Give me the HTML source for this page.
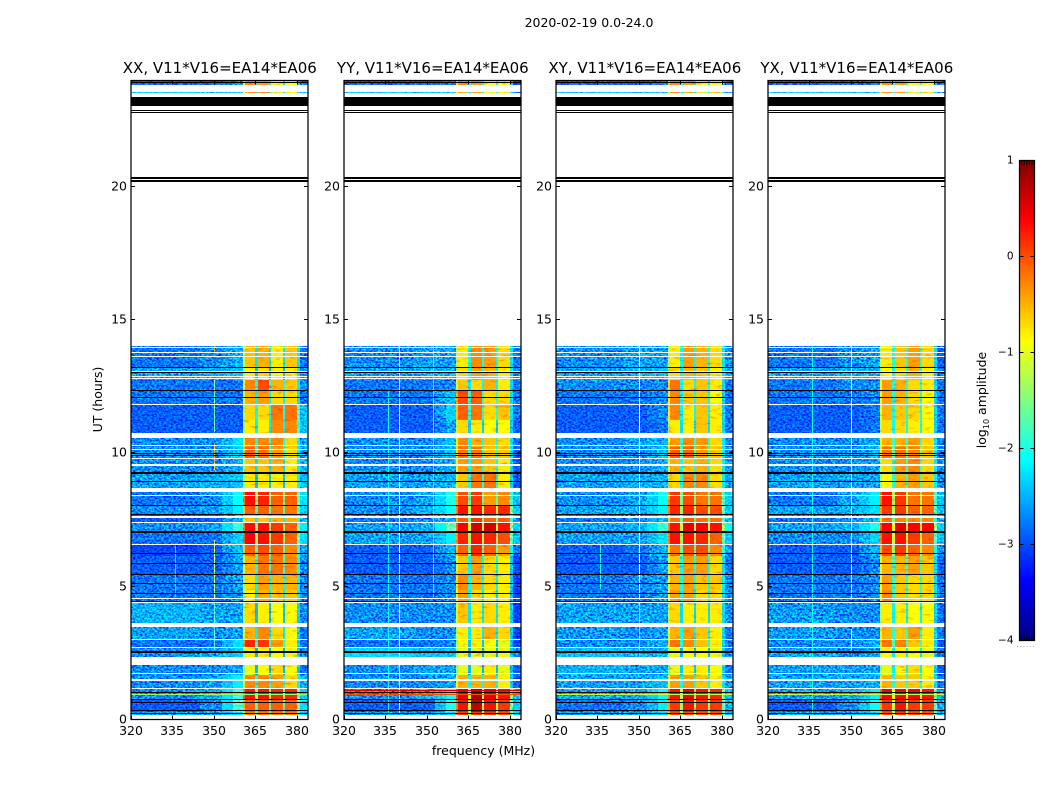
<!DOCTYPE html>
<html lang="en">
<head>
<meta charset="utf-8">
<title>2020-02-19 0.0-24.0</title>
<style>
html,body{margin:0;padding:0;background:#fff;width:1050px;height:800px;overflow:hidden}
svg{display:block}
text{font-family:"DejaVu Sans","Liberation Sans",sans-serif;fill:#000}
.tick{font-size:12.5px}
.title{font-size:15px}
</style>
</head>
<body>
<svg id="chart" xmlns="http://www.w3.org/2000/svg" width="1050" height="800" viewBox="0 0 1050 800">
<defs>
<filter id="speckle" x="0" y="0" width="100%" height="100%" color-interpolation-filters="sRGB">
<feTurbulence type="fractalNoise" baseFrequency="0.42 0.55" numOctaves="2" seed="7"/>
<feColorMatrix type="matrix" values="2.2 0 0 0 -0.5  2.2 0 0 0 -0.5  2.2 0 0 0 -0.5  0 0 0 0 1"/>
</filter>
<filter id="bandTexture" x="0" y="0" width="100%" height="100%" color-interpolation-filters="sRGB">
<feTurbulence type="fractalNoise" baseFrequency="0.12 0.35" numOctaves="2" seed="11"/>
<feColorMatrix type="matrix" values="0 0 0 0 1  1.3 0 0 0 0.46  0 0 0 0 1  0 0 0 0 1"/>
</filter>
</defs>
<text x="589" y="27" text-anchor="middle" style="font-size:12.5px">2020-02-19 0.0-24.0</text>
<text x="483.5" y="755" text-anchor="middle" class="tick">frequency (MHz)</text>
<text transform="translate(102,399.5) rotate(-90)" text-anchor="middle" class="tick">UT (hours)</text>
<text transform="translate(986,400) rotate(-90)" text-anchor="middle" class="tick">log<tspan font-size="8" dy="3">10</tspan><tspan dy="-3"> amplitude</tspan></text>
</svg>
<script>
// Time rows [top hour, bottom hour]
const rowHours=[[23.94,23.79],[23.52,23.47],[14.00,13.21],[13.21,12.73],[12.73,12.32],[12.32,11.83],[11.83,11.23],[11.23,10.74],[10.59,10.22],[10.22,9.80],[9.80,9.24],[9.24,8.68],[8.53,8.04],[8.04,7.67],[7.67,7.40],[7.40,6.99],[6.99,6.54],[6.54,6.13],[6.13,5.42],[5.42,4.85],[4.85,4.40],[4.40,3.62],[3.47,2.98],[2.98,2.68],[2.68,2.34],[2.04,1.67],[1.67,1.14],[1.14,0.73],[0.73,0.28],[0.28,0.13]];
// Frequency column edges (MHz)
const columnEdges=[320,345,353,357,360.5,361.2,365,365.8,370,370.8,375,375.8,380,381,384];
// log10 amplitude per row: [320-345, 345-353, 353-360, band1, band2, band3, band4, 381-384]
const xxLevels=[[-3,-3,-2.8,-.3,-.4,-.9,-.9,-3],[-2.4,-2.6,-2.6,-.4,-.4,-1,-.8,-2.6],[-2.9,-2.8,-2.6,-.6,-.5,-.8,-.6,-2.9],[-2.7,-2.6,-2.5,-.8,-.7,-.8,-.8,-2.7],[-2.9,-2.9,-2.9,-.3,0,-.5,-.6,-2.8],[-2.9,-2.9,-2.9,-.5,-.4,-.7,-.7,-2.9],[-3,-3,-3,-.7,-.7,-.2,-.2,-2.5],[-3,-3,-3,-.8,-.8,-.3,-.3,-2.5],[-2.8,-2.8,-2.3,-.3,-.3,-.3,-.7,-2.7],[-2.8,-2.8,-2.5,-.1,-.2,-.4,-.7,-2.7],[-2.8,-2.8,-2.6,-.6,-.6,-.5,-.8,-2.6],[-2.7,-2.6,-2.5,-.8,-.8,-.8,-.8,-2.5],[-2.9,-2.8,-2.1,.3,.2,-.1,-.1,-2.3],[-2.8,-2.7,-2.2,-.1,-.1,-.2,-.2,-2.4],[-3,-3,-2.6,-.6,-.6,-.5,-.5,-2.6],[-2.8,-2.7,-1.9,.3,.3,.1,-.1,-2.2],[-2.9,-2.9,-2.4,.4,.3,.1,-.1,-2.3],[-3.1,-3,-2.5,-.1,0,-.1,-.3,-2.7],[-3,-3,-2.7,-.5,-.2,-.2,-.3,-2.8],[-2.9,-2.9,-2.7,-.7,-.4,-.5,-.5,-2.8],[-2.9,-2.9,-2.8,-.8,-.5,-.6,-.6,-2.8],[-2.6,-2.7,-2.7,-.7,-.8,-.9,-.9,-2.8],[-2.7,-2.8,-2.7,-.5,-.3,-.7,-.9,-2.9],[-2.9,-2.9,-2.3,.2,.1,-.4,-.8,-2.9],[-2.8,-2.7,-2.4,-.8,-.8,-.9,-1,-2.8],[-2.8,-2.8,-2.7,-1,-.9,-.7,-.9,-2.9],[-2.8,-2.7,-2.2,-.3,-.3,-.4,-.7,-2.6],[-2.8,-2.6,-1.9,.3,.3,.2,.2,-2.4],[-3,-2.8,-1.8,-.1,-.1,-.1,-.1,-2.3],[-2.7,-2.7,-2.3,-.2,-.2,-.2,-.2,-2.5]];
const yyLevels=[[-3,-3,-2.9,-.3,-.4,-.9,-.9,-3.1],[-2.5,-2.6,-2.6,-.4,-.4,-.9,-.8,-3],[-2.8,-2.7,-2.7,-.8,-.3,-.4,-.7,-2.9],[-2.7,-2.6,-2.6,-.7,-.4,-.5,-.8,-2.8],[-2.9,-2.9,-2.8,-.6,-.7,-.5,-.8,-2.9],[-2.9,-2.9,-2.5,0,-.1,-.7,-.7,-2.9],[-3,-3,-2.4,-.1,-.2,-.7,-.6,-2.9],[-3,-3,-2.7,-.7,-.8,-.9,-.9,-3],[-2.8,-2.8,-2.5,-.3,-.5,-.6,-.7,-2.9],[-2.8,-2.8,-2.5,-.2,-.2,-.6,-.6,-3],[-2.8,-2.8,-2.6,-.4,-.4,-.6,-.8,-3],[-2.7,-2.7,-2.6,-.6,-.2,-.2,-.8,-3],[-2.8,-2.7,-2,0,.1,-.4,-.3,-2.5],[-2.8,-2.6,-2.1,.3,.3,.2,.2,-2.4],[-2.9,-2.8,-2.6,-.1,.1,-.1,-.1,-2.7],[-2.7,-2.6,-1.7,.4,.6,.6,.3,-2.4],[-2.7,-2.7,-2.2,.2,.3,.2,0,-2.5],[-3,-3,-2.6,-.1,.2,-.1,-.4,-2.9],[-3,-3,-2.8,-.6,-.4,-.7,-.8,-3.1],[-2.9,-2.9,-2.8,-.3,-.5,-.7,-.8,-3.1],[-2.9,-2.9,-2.8,-.4,-.7,-.8,-.8,-3.1],[-2.8,-2.8,-2.8,-.6,-.8,-.7,-.8,-3.1],[-2.7,-2.8,-2.8,-.8,-.8,-.5,-.7,-3.1],[-2.9,-2.9,-2.8,-.9,-.8,-.9,-1,-3.1],[-2.35,-2.5,-2.5,-1,-1,-1,-1,-2.8],[-2.8,-2.7,-2.7,-1,-1,-.8,-1,-3],[-2.8,-2.8,-2.7,-.5,-.5,-.5,-.8,-3],[-2.8,-2.6,-2.1,.5,.8,.5,.3,-2.5],[-3,-3,-2,.3,.7,.3,.1,-2.4],[-2.7,-2.7,-2.3,.1,.1,.1,0,-2.5]];
const xyLevels=[[-3,-3,-2.9,-.3,-.4,-.9,-.9,-3],[-2.5,-2.6,-2.6,-.3,-.4,-1,-.8,-2.9],[-2.8,-2.7,-2.7,-.8,-.4,-.5,-.7,-2.8],[-2.7,-2.6,-2.5,-.7,-.5,-.6,-.8,-2.7],[-2.8,-2.8,-2.8,-.2,-.7,-.6,-.8,-2.9],[-2.9,-2.9,-2.8,-.3,-.6,-.6,-.9,-2.9],[-3,-3,-2.8,-.3,-.8,-.6,-.8,-2.9],[-3,-3,-2.9,-.8,-.8,-.6,-.8,-2.9],[-2.8,-2.7,-2.6,-.4,-.3,-.4,-.7,-2.8],[-2.8,-2.8,-2.5,-.1,-.1,-.4,-.6,-2.8],[-2.8,-2.8,-2.6,-.5,-.6,-.5,-.7,-2.7],[-2.7,-2.6,-2.6,-.7,-.3,-.3,-.7,-2.7],[-2.8,-2.7,-2.1,.1,0,-.2,-.2,-2.4],[-2.7,-2.6,-2.2,.2,.2,0,0,-2.4],[-2.9,-2.8,-2.6,-.2,-.1,-.2,-.2,-2.6],[-2.7,-2.6,-1.9,.3,.5,.4,.3,-2.1],[-2.7,-2.7,-2.3,.3,.3,.2,-.1,-2.4],[-3,-2.9,-2.6,-.2,0,0,-.3,-2.7],[-3,-3,-2.7,-.6,-.4,-.4,-.7,-2.9],[-2.9,-2.8,-2.7,-.5,-.4,-.6,-.6,-2.8],[-2.9,-2.9,-2.7,-.4,-.4,-.7,-.7,-2.8],[-2.7,-2.7,-2.7,-.7,-.8,-.8,-.8,-2.8],[-2.75,-2.8,-2.7,-.5,-.4,-.6,-.8,-2.9],[-2.8,-2.8,-2.6,-.2,-.3,-.6,-.8,-2.9],[-2.5,-2.6,-2.6,-1,-.9,-.9,-1,-2.8],[-2.6,-2.7,-2.7,-1,-.8,-.8,-.9,-2.9],[-2.7,-2.7,-2.5,-.4,-.4,-.6,-.8,-2.7],[-2.7,-2.6,-2.1,.3,.5,.3,.2,-2.5],[-2.9,-2.8,-2.2,.1,.3,.1,.1,-2.6],[-2.7,-2.7,-2.4,0,0,0,0,-2.6]];
const yxLevels=[[-3,-3,-2.9,-.3,-.4,-.9,-.9,-3],[-2.5,-2.6,-2.6,-.3,-.4,-1,-.8,-2.9],[-2.9,-2.8,-2.7,-.8,-.6,-.4,-.7,-3],[-2.7,-2.6,-2.6,-.9,-.7,-.5,-.8,-2.9],[-2.9,-2.8,-2.8,-.4,-.5,-.7,-.8,-2.9],[-2.9,-2.9,-2.8,-.4,-.5,-.7,-.9,-2.9],[-3,-3,-2.9,-.5,-.6,-.7,-.9,-2.9],[-3,-3,-2.9,-.7,-.7,-.8,-.9,-2.9],[-2.8,-2.8,-2.6,-.5,-.5,-.4,-.7,-2.9],[-2.8,-2.8,-2.6,-.2,-.2,-.3,-.6,-2.9],[-2.8,-2.8,-2.7,-.7,-.4,-.3,-.7,-2.8],[-2.7,-2.7,-2.7,-.9,-.5,-.4,-.6,-2.8],[-2.9,-2.7,-2.2,.3,.1,-.2,-.2,-2.5],[-2.7,-2.6,-2.3,.1,.1,-.1,-.1,-2.5],[-2.9,-2.8,-2.6,-.2,-.3,-.3,-.3,-2.7],[-2.7,-2.6,-2,.4,.5,.4,.4,-2.4],[-2.8,-2.8,-2.4,.3,.3,.1,-.1,-2.5],[-3,-3,-2.6,0,.1,-.1,-.3,-2.8],[-3,-3,-2.8,-.5,-.5,-.4,-.6,-3],[-2.9,-2.9,-2.8,-.4,-.6,-.7,-.7,-2.9],[-2.9,-2.9,-2.8,-.3,-.6,-.7,-.7,-2.9],[-2.75,-2.8,-2.8,-.8,-.8,-.9,-.9,-2.9],[-2.75,-2.8,-2.8,-.5,-.6,-.4,-.8,-2.9],[-2.8,-2.8,-2.6,-.2,-.3,-.6,-.8,-3],[-2.7,-2.8,-2.7,-.9,-.8,-.9,-1,-2.9],[-2.7,-2.7,-2.7,-1,-.9,-.7,-.9,-3],[-2.7,-2.7,-2.6,-.5,-.6,-.6,-.8,-2.9],[-2.7,-2.6,-2.2,.4,.4,.4,.3,-2.6],[-3,-2.8,-2.1,.1,.3,.1,.1,-2.6],[-2.7,-2.7,-2.4,0,.1,0,0,-2.6]];
// Drop of the notch channels below the mean band level
const notchDrops=[1.6,1.5,1.5,1.3];
// Interference channels: [freq MHz, top hour, bottom hour, log10 amp or null when masked]
const xxChannels=[[350,14,13.78,-.4],[350,12.73,10.75,-1.6],[350,10.37,9.35,-.5],[350,6.73,4.55,-1.2],[350,4.37,2.6,-1.8],[336,6.5,4.6,-2.2]];
const yyChannels=[[340,14,.2,-1],[352,14,4.6,-2],[336,12.3,.2,-2.1],[340,9.2,6,null]];
const xyChannels=[[350,14,4.5,null],[336,6.6,4.9,-2],[350,4.4,2,-1.8]];
const yxChannels=[[350,14,4.5,-.9],[336,14,.2,-2.1],[350,3.4,2.6,null]];
// Single hot integrations: [top hour, bottom hour, log10 amp]
const xxHotRows=[[.96,.93,-1.4]];
const yyHotRows=[[1.09,1.05,.5],[.96,.92,0]];
const xyHotRows=[[.97,.94,-1.2]];
const yxHotRows=[[.97,.94,-1.2]];
// Flagged (white) and zero (black) time ranges [top hour, bottom hour]
const whiteRanges=[[13.96,13.93],[13.79,13.75],[13.64,13.60],[13.22,13.19],[13.05,13.02],[12.87,12.83],[12.79,12.75],[11.84,11.80],[10.75,10.56],[10.30,10.26],[10.15,10.11],[9.82,9.78],[9.56,9.52],[8.69,8.53],[8.43,8.39],[7.64,7.55],[7.42,7.38],[6.59,6.55],[4.56,4.52],[4.40,4.36],[3.63,3.46],[3.03,2.99],[2.71,2.67],[2.35,2.04],[1.75,1.71],[1.52,1.45],[1.17,1.13],[.17,0]];
const blackRanges=[[23.9,23.87],[23.34,23.01],[22.84,22.80],[22.77,22.73],[20.34,20.27],[20.21,20.16],[13.2,13.16],[13.03,12.99],[12.37,12.33],[12.10,12.06],[9.98,9.94],[9.92,9.88],[9.26,9.22],[8.93,8.89],[8.04,8],[7.72,7.68],[7.05,7.01],[6.25,6.21],[5.88,5.84],[5.46,5.42],[5.13,5.09],[4.75,4.71],[4.44,4.40],[2.57,2.48],[1.02,.98],[.77,.73],[.66,.62],[.34,.3],[.25,.21]];
// Axis ticks and panels
const freqTicks=[320,335,350,365,380];
const hourTicks=[0,5,10,15,20];
const panelTitles=['XX, V11*V16=EA14*EA06','YY, V11*V16=EA14*EA06','XY, V11*V16=EA14*EA06','YX, V11*V16=EA14*EA06'];
const panelLevels=[xxLevels,yyLevels,xyLevels,yxLevels];
const panelChannels=[xxChannels,yyChannels,xyChannels,yxChannels];
const panelHotRows=[xxHotRows,yyHotRows,xyHotRows,yxHotRows];
const panelLeft=[131,344,556,768];
const colorTicks=[1,0,-1,-2,-3,-4];

const NS='http://www.w3.org/2000/svg';
const svg=document.getElementById('chart');
const plotWidth=177,plotTop=80.5,plotBottom=719.5;
const yScale=h=>plotBottom-h*26.675;
const xScale=(left,f)=>left+(f-320)*plotWidth/64;
function clamp(v){return Math.max(0,Math.min(1,v));}
function jet(level){
  const t=clamp((level+4)/5);
  const c=k=>Math.round(255*clamp(1.5-Math.abs(4*t-k)));
  return 'rgb('+c(3)+','+c(2)+','+c(1)+')';
}
function node(tag,parent,attrs){
  const el=document.createElementNS(NS,tag);
  for(const k in attrs)el.setAttribute(k,attrs[k]);
  parent.appendChild(el);
  return el;
}
function cellLevel(row,col,drop){
  const m=(row[3]+row[4]+row[5]+row[6])/4;
  const map=[row[0],row[1],(row[1]+row[2])/2,row[2],row[3]-.5,row[3],m-drop,row[4],m-drop,row[5],m-drop,row[6],(row[7]+row[6]-1)/2,row[7]];
  return map[col];
}
function hBand(parent,left,top,bottom,fill){
  const y0=Math.round(yScale(top)),y1=Math.max(y0+1,Math.round(yScale(bottom)));
  return node('rect',parent,{x:left,y:y0,width:plotWidth,height:y1-y0,fill:fill,'shape-rendering':'crispEdges'});
}
panelTitles.forEach((title,p)=>{
  const left=panelLeft[p];
  const g=node('g',svg,{style:'isolation:isolate'});
  
  
  const plot=node('svg',g,{x:left,y:plotTop,width:plotWidth,height:plotBottom-plotTop,viewBox:left+' '+plotTop+' '+plotWidth+' '+(plotBottom-plotTop)});
  
  
  node('rect',plot,{x:left,y:plotTop,width:plotWidth,height:plotBottom-plotTop,fill:'#fff'});
  panelLevels[p].forEach((row,r)=>{
    const y0=Math.round(yScale(rowHours[r][0])),y1=Math.round(yScale(rowHours[r][1]));
    for(let c=0;c<columnEdges.length-1;c++){
      const x0=Math.round(xScale(left,columnEdges[c])),x1=Math.round(xScale(left,columnEdges[c+1]));
      const cell=node('rect',plot,{x:x0,y:y0,width:x1-x0,height:y1-y0,fill:jet(cellLevel(row,c,notchDrops[p])),'shape-rendering':'crispEdges'});
      
      
    }
  });
  panelChannels[p].forEach(ch=>{
    if(ch[3]===null)return;
    const line=node('rect',plot,{x:Math.round(xScale(left,ch[0])),y:yScale(ch[1]),width:1,height:yScale(ch[2])-yScale(ch[1]),fill:jet(ch[3]),'shape-rendering':'crispEdges'});
    
    
  });
  const bandLeft=xScale(left,360.5),bandRight=xScale(left,380);
  const noiseA=node('rect',plot,{x:left,y:plotTop,width:bandLeft-left,height:plotBottom-plotTop,fill:'#808080',filter:'url(#speckle)',style:'mix-blend-mode:overlay'});
  
  
  const noiseB=node('rect',plot,{x:bandRight,y:plotTop,width:left+plotWidth-bandRight,height:plotBottom-plotTop,fill:'#808080',filter:'url(#speckle)',style:'mix-blend-mode:overlay'});
  
  
  const noiseC=node('rect',plot,{x:bandLeft,y:plotTop,width:bandRight-bandLeft,height:plotBottom-plotTop,fill:'#808080',filter:'url(#bandTexture)',style:'mix-blend-mode:multiply'});
  
  
  panelHotRows[p].forEach(h=>{
    const hot=hBand(plot,left,h[0],h[1],jet(h[2]));
    
    
  });
  panelChannels[p].forEach(ch=>{
    if(ch[3]!==null)return;
    const mask=node('rect',plot,{x:Math.round(xScale(left,ch[0])),y:yScale(ch[1]),width:1,height:yScale(ch[2])-yScale(ch[1]),fill:'#fff','shape-rendering':'crispEdges'});
    
    
  });
  whiteRanges.forEach(w=>{
    const gap=hBand(plot,left,w[0],w[1],'#fff');
    
    
  });
  const cover=node('rect',plot,{x:left,y:yScale(23.47),width:plotWidth,height:yScale(14)-yScale(23.47),fill:'#fff'});
  
  
  const coverTop=node('rect',plot,{x:left,y:yScale(23.79),width:plotWidth,height:yScale(23.52)-yScale(23.79),fill:'#fff'});
  
  
  blackRanges.forEach(b=>{
    const zero=hBand(plot,left,b[0],b[1],'#000');
    
    
  });
  freqTicks.forEach(f=>{
    const x=Math.round(xScale(left,f))+.5;
    const t=node('path',g,{d:'M'+x+' '+plotBottom+'v-4M'+x+' '+plotTop+'v4',stroke:'#000','stroke-width':1,fill:'none'});
    
    
    const l=node('text',g,{x:x-.5,y:735,'text-anchor':'middle',class:'tick'});
    l.textContent=f;
    
    
  });
  hourTicks.forEach(h=>{
    const y=Math.round(yScale(h)-.5)+.5;
    const right=left+plotWidth;
    const t=node('path',g,{d:'M'+left+' '+y+'h4M'+right+' '+y+'h-4',stroke:'#000','stroke-width':1,fill:'none'});
    
    
    const l=node('text',g,{x:left-4,y:y+4,'text-anchor':'end',class:'tick'});
    l.textContent=h;
    
    
  });
  const frame=node('rect',g,{x:left,y:plotTop,width:plotWidth,height:plotBottom-plotTop,fill:'none',stroke:'#000','stroke-width':1.25});
  
  
  const tt=node('text',g,{x:left+plotWidth/2+.3,y:73,'text-anchor':'middle',class:'title'});
  tt.textContent=title;
  
  
});
// Colorbar
const cbX=1019.5,cbW=15,cbTop=160.5,cbBottom=640.5;
const cbScale=v=>cbBottom-(v+4)*(cbBottom-cbTop)/5;
const cb=node('g',svg,{});


const defs=svg.querySelector('defs');
const grad=node('linearGradient',defs,{id:'jetGradient',x1:0,y1:1,x2:0,y2:0});
for(let s=0;s<=40;s++){
  node('stop',grad,{offset:(s/40),'stop-color':jet(-4+5*s/40)});
}
const bar=node('rect',cb,{x:cbX,y:cbTop,width:cbW,height:cbBottom-cbTop,fill:'url(#jetGradient)',stroke:'#000','stroke-width':1.25});


colorTicks.forEach(v=>{
  const y=Math.round(cbScale(v)-.5)+.5;
  const t=node('path',cb,{d:'M'+cbX+' '+y+'h4M'+(cbX+cbW)+' '+y+'h-4',stroke:'#000','stroke-width':1,fill:'none'});
  
  
  const l=node('text',cb,{x:1013.5,y:y+3,'text-anchor':'end',style:'font-size:10.5px'});
  l.textContent=v<0?'\u2212'+(-v):String(v);
  
  
});
for(let i=0;i<5;i++){
  const x=1021.7+i*2.6;
  const m=node('path',cb,{d:'M'+x+' '+cbTop+'v5M'+x+' '+cbBottom+'v-5',stroke:'#000','stroke-width':.8,fill:'none'});
  
  
}
for(let i=0;i<6;i++){
  const d=node('rect',cb,{x:1017+i*3.2,y:646,width:1,height:1,fill:'#aaa'});
  
  
}
</script>
</body>
</html>
